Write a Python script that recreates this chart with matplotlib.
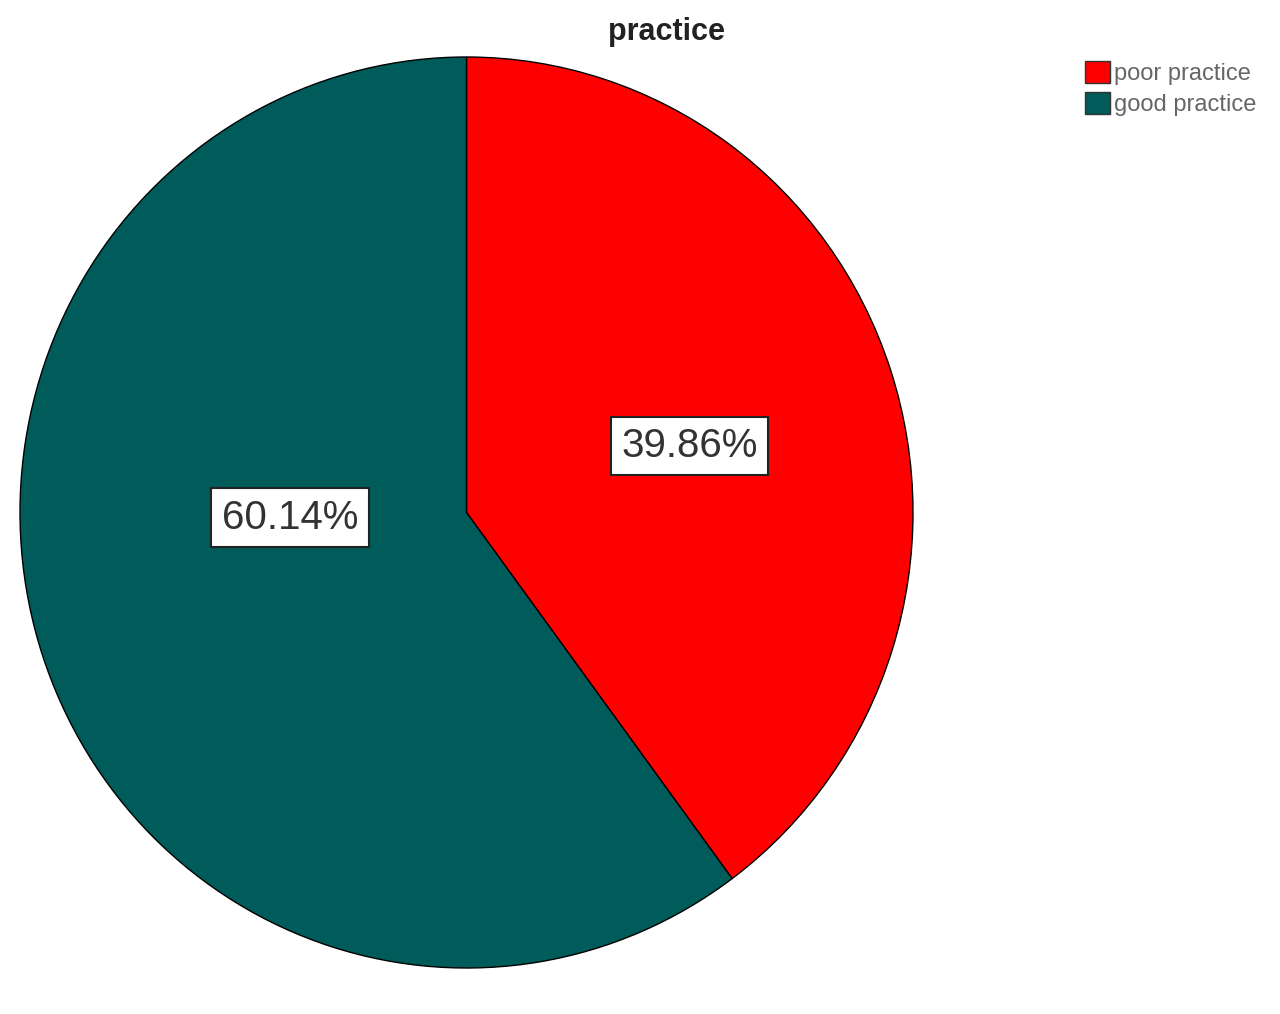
import matplotlib.pyplot as plt
from matplotlib.patches import Patch

# Data
labels = ["poor practice", "good practice"]
values = [39.86, 60.14]
colors = ["#FF0000", "#005C5A"]
title = "practice"

plt.rcParams['font.family'] = ['Liberation Sans', 'DejaVu Sans']

fig = plt.figure(figsize=(12.8, 10.14), dpi=100)

# pie axes placed in pixels of the reference
W, H = 1280, 1014
ax = fig.add_axes([20 / W, (H - 968) / H, 893 / W, 911 / H])

wedges, _ = ax.pie(
    values,
    colors=colors,
    startangle=90,
    counterclock=False,
    radius=1,
    wedgeprops=dict(edgecolor="black", linewidth=1),
)
ax.set_aspect("auto")
ax.set_xlim(-1, 1)
ax.set_ylim(-1, 1)

# percentage boxes
label_pos = [(0.50, 0.146), (-0.395, -0.012)]
for v, (x, y) in zip(values, label_pos):
    ax.text(
        x, y, f"{v:.2f}%",
        ha="center", va="center",
        fontsize=29, color="#333333",
        bbox=dict(boxstyle="square,pad=0.26", facecolor="white",
                  edgecolor="#222222", linewidth=1.5),
    )

fig.text(667 / W, 1 - 32 / H, title, ha="center", va="center",
         fontsize=22, fontweight="bold", color="#222222")

handles = [Patch(facecolor=c, edgecolor="#333333") for c in colors]
fig.legend(
    handles, labels,
    loc="upper left",
    bbox_to_anchor=(1073 / W, 1 - 49 / H),
    frameon=False,
    fontsize=17,
    handlelength=1.05,
    handleheight=1.05,
    handletextpad=0.2,
    labelspacing=0.3,
    borderpad=0,
    labelcolor="#666666",
)

fig.savefig("out.png", dpi=100, facecolor="white")
